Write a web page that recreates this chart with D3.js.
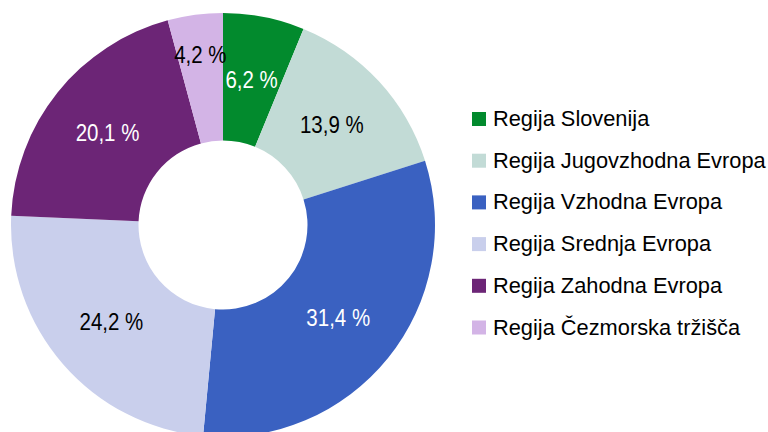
<!DOCTYPE html>
<html>
<head>
<meta charset="utf-8">
<script src="https://cdn.jsdelivr.net/npm/d3@7"></script>
<style>
  html, body { margin: 0; padding: 0; background: #fff; }
  svg { display: block; font-family: "Liberation Sans", Arial, sans-serif; }
</style>
</head>
<body>
<svg id="chart" width="768" height="432"></svg>
<script>
const categories = ["Regija Slovenija", "Regija Jugovzhodna Evropa", "Regija Vzhodna Evropa", "Regija Srednja Evropa", "Regija Zahodna Evropa", "Regija Čezmorska tržišča"];
const values = [6.2, 13.9, 31.4, 24.2, 20.1, 4.2];
const colors = ["#028A2D", "#C2DBD6", "#3A61C1", "#C9CFEC", "#6C2576", "#D3B4E6"];
const labelColors = ["#fff", "#000", "#fff", "#000", "#fff", "#000"];

const svg = d3.select("#chart");
const cx = 223, cy = 225, rOuter = 212, rInner = 84.5;

const data = categories.map((c, i) => ({ name: c, value: values[i], color: colors[i], labelColor: labelColors[i] }));

const pie = d3.pie().value(d => d.value).sort(null);
const arcs = pie(data);
const arc = d3.arc().innerRadius(rInner).outerRadius(rOuter);

const g = svg.append("g").attr("transform", `translate(${cx},${cy})`);
g.selectAll("path").data(arcs).join("path")
  .attr("d", arc)
  .attr("fill", d => d.data.color);

const fmt = v => d3.format(".1f")(v).replace(".", ",") + " %";
g.selectAll("text").data(arcs).join("text")
  .attr("transform", d => {
    const a = (d.startAngle + d.endAngle) / 2;
    const r = d.data.value < 5 ? 172 : 148;
    return `translate(${Math.sin(a) * r},${-Math.cos(a) * r}) scale(0.89,1)`;
  })
  .attr("text-anchor", "middle")
  .attr("dy", "0.36em")
  .attr("font-size", 23)
  .attr("fill", d => d.data.labelColor)
  .text(d => fmt(d.data.value));

const legend = svg.append("g").attr("transform", "translate(472,0)");
const rowY = d3.scaleLinear().domain([0, 1]).range([126, 167.7]);
const items = legend.selectAll("g").data(data).join("g")
  .attr("transform", (d, i) => `translate(0,${rowY(i)})`);
items.append("rect")
  .attr("x", 0).attr("y", -14).attr("width", 14).attr("height", 14)
  .attr("fill", d => d.color);
items.append("text")
  .attr("x", 21).attr("y", 0)
  .attr("font-size", 21.8)
  .attr("fill", "#000")
  .text(d => d.name);
</script>
</body>
</html>
